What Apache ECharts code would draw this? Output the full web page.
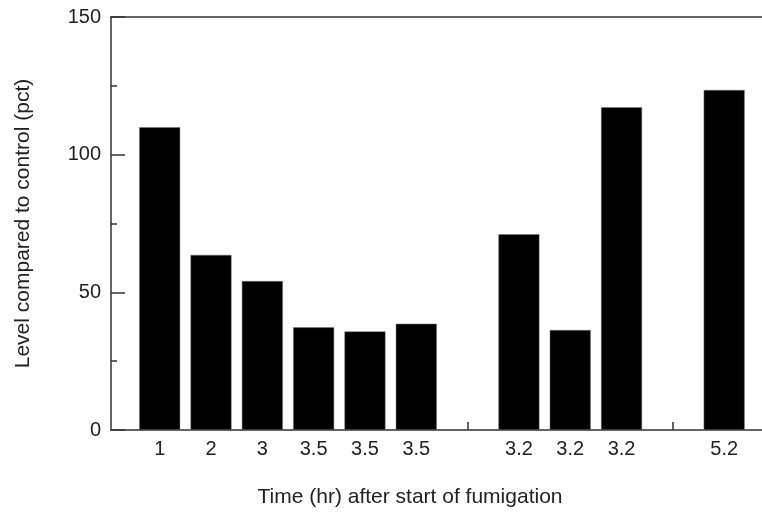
<!DOCTYPE html>
<html><head><meta charset="utf-8">
<script src="https://cdn.jsdelivr.net/npm/echarts@6/dist/echarts.min.js"></script>
<style>html,body{margin:0;padding:0;background:#fff}#c{width:762px;height:514px}</style>
</head><body><div id="c"></div>
<script>
const positions = [1, 2, 3, 4, 5, 6, 8, 9, 10, 12];
const tickLabels = ['1', '2', '3', '3.5', '3.5', '3.5', '3.2', '3.2', '3.2', '5.2'];
const values = [110, 63.6, 54.1, 37.3, 35.8, 38.6, 71.1, 36.3, 117.2, 123.5];
const gapTicks = [7, 11];
const yTicks = [0, 50, 100, 150];

const font = '"Liberation Sans", Arial, sans-serif';
const chart = echarts.init(document.getElementById('c'));
chart.setOption({
  animation: false,
  grid: {left: 111, top: 17, right: 0, bottom: 84},
  xAxis: [{
    type: 'value', min: 0.051, max: 12.737,
    axisLine: {show: true, onZero: false, lineStyle: {color: '#333', width: 1.5}},
    axisTick: {show: true, inside: true, length: 8, customValues: gapTicks, lineStyle: {color: '#333', width: 1.5}},
    axisLabel: {customValues: positions, margin: 9, color: '#222', fontSize: 20, fontFamily: font,
      formatter: v => { const i = positions.indexOf(Math.round(v)); return i >= 0 ? tickLabels[i] : ''; }},
    splitLine: {show: false}
  }, {
    type: 'value', position: 'top', min: 0.051, max: 12.737,
    axisLine: {show: true, onZero: false, lineStyle: {color: '#333', width: 1.5}},
    axisTick: {show: false}, axisLabel: {show: false}, splitLine: {show: false}
  }],
  yAxis: {
    type: 'value', min: 0, max: 150, interval: 50,
    name: 'Level compared to control (pct)', nameLocation: 'middle', nameGap: 77,
    nameTextStyle: {color: '#222', fontSize: 21, fontFamily: font},
    axisLine: {show: true, lineStyle: {color: '#333', width: 1.5}},
    axisTick: {show: true, inside: true, length: 14, lineStyle: {color: '#333', width: 1.5}},
    minorTick: {show: true, splitNumber: 2, length: 6, lineStyle: {color: '#333', width: 1.5}},
    axisLabel: {margin: 10, color: '#222', fontSize: 20, fontFamily: font,
      formatter: v => yTicks.includes(v) ? String(v) : ''},
    splitLine: {show: false}
  },
  graphic: [{
    type: 'text', x: 410, y: 497,
    style: {text: 'Time (hr) after start of fumigation', fill: '#222', fontSize: 21, fontFamily: font,
      align: 'center', verticalAlign: 'middle'}
  }],
  series: [{
    type: 'bar', barWidth: 41,
    itemStyle: {color: '#000', borderColor: '#777', borderWidth: 0.5},
    data: positions.map((p, i) => [p, values[i]])
  }]
});
</script></body></html>
